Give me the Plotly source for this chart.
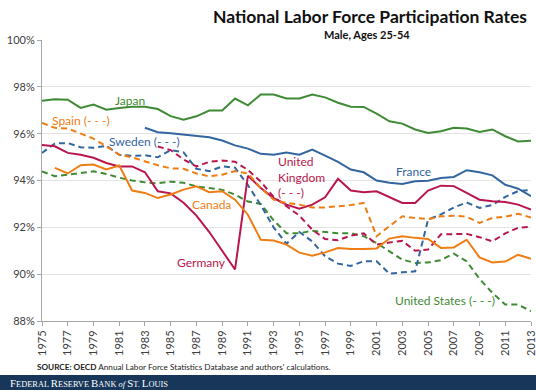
import plotly.graph_objects as go

years = list(range(1975, 2014))

japan = [97.4, 97.47, 97.45, 97.1, 97.24, 97.02, 97.1, 97.15, 97.15, 97.05,
         96.75, 96.6, 96.74, 96.99, 96.99, 97.5, 97.21, 97.67, 97.67, 97.5,
         97.5, 97.67, 97.55, 97.32, 97.15, 97.14, 96.86, 96.53, 96.43, 96.18,
         96.03, 96.1, 96.25, 96.22, 96.07, 96.18, 95.89, 95.67, 95.7]
germany = [95.52, 95.46, 95.18, 95.1, 94.97, 94.75, 94.6, 94.6, 94.35, 93.54,
           93.45, 93.05, 92.5, 91.8, 91.0, 90.2, 94.2, 93.68, 93.25, 92.97,
           92.8, 92.97, 93.28, 94.07, 93.57, 93.5, 93.54, 93.28, 93.04, 93.04,
           93.57, 93.78, 93.76, 93.47, 93.18, 93.11, 93.08, 92.97, 92.76]
spain = [96.46, 96.25, 96.22, 95.99, 95.79, 95.46, 95.1, 94.99, 94.82, 94.65,
         94.52, 94.5, 94.3, 94.18, 94.25, 94.4, 94.3, 93.68, 93.18, 93.04,
         92.97, 92.85, 92.85, 92.9, 92.95, 93.04, 91.62, 92.05, 92.47, 92.4,
         92.35, 92.47, 92.5, 92.45, 92.19, 92.4, 92.45, 92.58, 92.42]
sweden = [95.18, 95.58, 95.6, 95.42, 95.4, 95.48, 95.1, 95.05, 95.08, 94.99,
          95.3, 95.2, 94.5, 94.4, 94.6, 94.55, 93.8, 92.95, 92.0, 91.3,
          91.8, 91.4, 90.76, 90.45, 90.35, 90.55, 90.55, 90.02, 90.08, 90.12,
          92.33, 92.55, 92.85, 93.06, 92.83, 92.95, 93.3, 93.55, 93.6]
usa = [94.39, 94.18, 94.25, 94.32, 94.39, 94.28, 94.12, 94.0, 93.92, 93.88,
       93.95, 93.9, 93.75, 93.68, 93.6, 93.4, 93.1, 93.0, 92.3, 91.75,
       91.75, 91.85, 91.8, 91.75, 91.75, 91.62, 91.33, 90.97, 90.62, 90.48,
       90.5, 90.6, 90.88, 90.55, 89.8, 89.2, 88.7, 88.7, 88.42]

canada_years = list(range(1976, 2014))
canada = [94.54, 94.3, 94.65, 94.68, 94.47, 94.64, 93.57, 93.47, 93.25,
          93.4, 93.61, 93.75, 93.5, 93.54, 93.18, 92.54, 91.47, 91.44, 91.26,
          90.92, 90.79, 90.93, 91.12, 91.08, 91.08, 91.1, 91.52, 91.62, 91.55,
          91.5, 91.12, 91.14, 91.47, 90.72, 90.5, 90.54, 90.83, 90.66]

france_years = list(range(1983, 2014))
france = [96.25, 96.06, 96.02, 95.96, 95.89, 95.85, 95.71, 95.5, 95.36, 95.14, 95.1, 95.2,
          95.1, 95.32, 95.06, 94.8, 94.47, 94.35, 94.0, 93.9, 93.85, 93.97,
          93.99, 94.11, 94.15, 94.44, 94.35, 94.22, 93.82, 93.65, 93.33]

uk_years = list(range(1984, 2014))
uk = [95.45, 95.3, 94.9, 94.6, 94.8, 94.85, 94.8, 94.45, 93.95, 93.3, 92.9,
      92.5, 91.9, 91.5, 91.45, 91.65, 91.74, 91.26, 91.35, 91.42, 91.0,
      91.05, 91.7, 91.72, 91.72, 91.58, 91.4, 91.74, 91.98, 92.02]

y_ticks = [88, 90, 92, 94, 96, 98, 100]
x_ticks = list(range(1975, 2014, 2))

GREEN = "#3f8a34"
BLUE = "#33659f"
RED = "#b8164c"
ORANGE = "#ef7d14"
FONT = "Lato, Open Sans, sans-serif"

series = [
    ("Japan", years, japan, GREEN, "solid"),
    ("United States", years, usa, GREEN, "dash"),
    ("France", france_years, france, BLUE, "solid"),
    ("Sweden", years, sweden, BLUE, "dash"),
    ("Germany", years, germany, RED, "solid"),
    ("United Kingdom", uk_years, uk, RED, "dash"),
    ("Canada", canada_years, canada, ORANGE, "solid"),
    ("Spain", years, spain, ORANGE, "dash"),
]

fig = go.Figure()
for name, xs, ys, col, dash in series:
    fig.add_trace(go.Scatter(x=xs, y=ys, mode="lines", name=name, hoverinfo="skip",
                             line=dict(color=col, width=2, dash="6px,4px" if dash == "dash" else "solid")))

labels = [
    ("Japan", 1981.8, 97.42, GREEN, "center"),
    ("Spain (- - -)", 1978.0, 96.55, ORANGE, "center"),
    ("Sweden (- - -)", 1983.0, 95.66, BLUE, "center"),
    ("France", 2003.9, 94.38, BLUE, "center"),
    ("United<br>Kingdom<br>(- - -)", 1993.2, 94.17, RED, "left"),
    ("Canada", 1988.2, 92.98, ORANGE, "center"),
    ("Germany", 1987.4, 90.51, RED, "center"),
    ("United States (- - -)", 2006.35, 88.89, GREEN, "center"),
]
for text, x, y, col, anc in labels:
    fig.add_annotation(x=x, y=y, xref="x", yref="y", text=text, showarrow=False,
                       font=dict(family=FONT, size=12, color=col), xanchor=anc, yanchor="middle",
                       align="left")

L, R, T, B = 42, 5, 40, 69
W, H = 536, 390
pw, ph = W - L - R, H - T - B

def px_x(p):
    return (p - L) / pw

def px_y(p):
    return (H - B - p) / ph

fig.add_annotation(x=px_x(529), y=px_y(16), xref="paper", yref="paper", showarrow=False,
                   text="<b>National Labor Force Participation Rates</b>", xanchor="right", yanchor="middle",
                   font=dict(family=FONT, size=17.5, color="#111111"))
fig.add_annotation(x=px_x(367), y=px_y(35), xref="paper", yref="paper", showarrow=False,
                   text="<b>Male, Ages 25-54</b>", xanchor="center", yanchor="middle",
                   font=dict(family=FONT, size=11, color="#111111"))
fig.add_annotation(x=px_x(35), y=px_y(367), xref="paper", yref="paper", showarrow=False,
                   text="<b>SOURCE: OECD</b> Annual Labor Force Statistics Database and authors' calculations.",
                   xanchor="left", yanchor="middle", font=dict(family=FONT, size=8.2, color="#222222"))

fig.add_shape(type="rect", xref="paper", yref="paper", x0=px_x(0), x1=px_x(536), y0=px_y(375), y1=px_y(391),
              fillcolor="#173659", line=dict(width=0), layer="above")
footer = ("<span style='font-size:10.8px'>F</span>EDERAL <span style='font-size:10.8px'>R</span>ESERVE "
          "<span style='font-size:10.8px'>B</span>ANK <i>of</i> <span style='font-size:10.8px'>S</span>T. "
          "<span style='font-size:10.8px'>L</span>OUIS")
fig.add_annotation(x=px_x(8), y=px_y(383), xref="paper", yref="paper", showarrow=False, text=footer,
                   xanchor="left", yanchor="middle",
                   font=dict(family="Liberation Serif, serif", size=8.4, color="#ffffff"))

fig.update_layout(
    width=W, height=H, margin=dict(l=L, r=R, t=T, b=B, autoexpand=False),
    paper_bgcolor="white", plot_bgcolor="white", showlegend=False,
    font=dict(family=FONT, size=11, color="#404040"),
)
fig.update_xaxes(range=[1975, 2013], tickvals=x_ticks, ticktext=[str(v) for v in x_ticks],
                 tickangle=-90, showgrid=False, showline=True, linecolor="#a6a6a6", linewidth=1,
                 ticks="outside", ticklen=4, tickcolor="#a6a6a6", zeroline=False, automargin=False,
                 ticklabeloverflow="allow",
                 tickfont=dict(family=FONT, size=11, color="#404040"))
fig.update_yaxes(range=[88, 100], tickvals=y_ticks, ticktext=[f"{v}%" for v in y_ticks],
                 showgrid=True, gridcolor="#e3e3e3", gridwidth=1, showline=True, linecolor="#a6a6a6",
                 linewidth=1, ticks="outside", ticklen=4, tickcolor="#a6a6a6", zeroline=False, automargin=False,
                 tickfont=dict(family=FONT, size=11, color="#404040"))

fig.write_html("out.html", config={"displayModeBar": False},
               post_script="document.body.style.margin='0';document.body.style.padding='0';")
